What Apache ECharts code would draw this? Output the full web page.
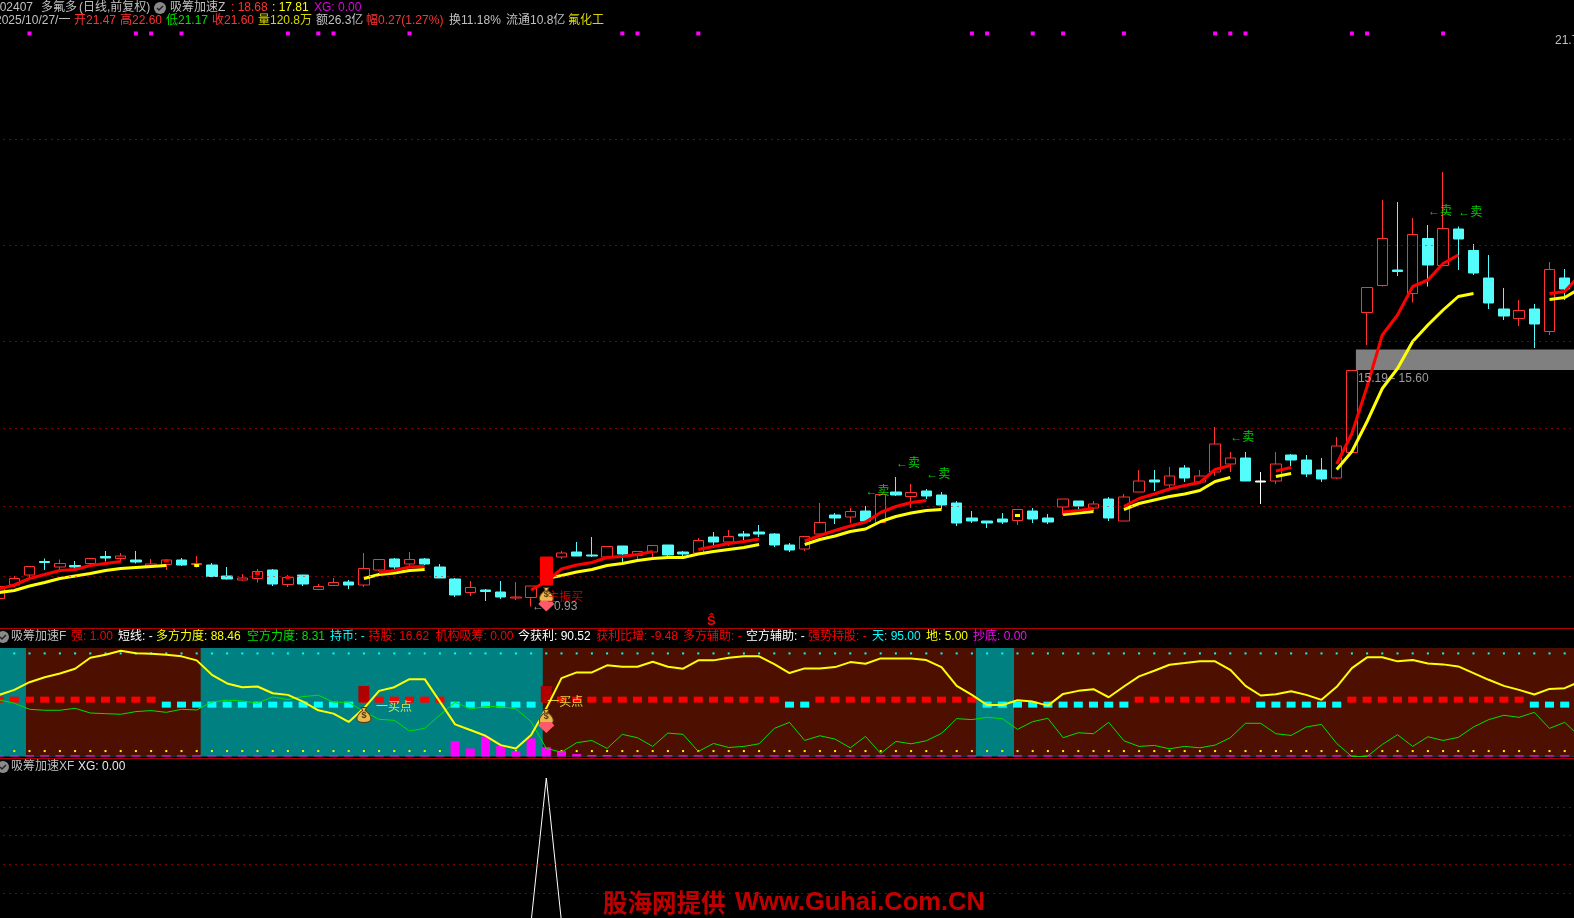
<!DOCTYPE html>
<html><head><meta charset="utf-8"><style>html,body{margin:0;padding:0;background:#000;overflow:hidden}#c{width:1574px;height:918px}</style>
<script src="https://cdn.jsdelivr.net/npm/echarts@6/dist/echarts.min.js"></script></head><body><div id="c"></div><script>
const _=null;
const categories=Array.from({length:105},(v,i)=>'K'+i);
const opens=[10.62,10.89,11.09,11.36,11.25,11.28,11.32,11.46,11.42,11.39,11.27,11.30,11.39,11.30,11.29,11.07,10.99,11.02,11.19,10.90,11.09,10.80,10.88,10.95,10.89,11.19,11.41,11.31,11.41,11.25,11.01,10.74,10.79,10.75,10.63,10.64,10.89,11.45,11.55,11.49,11.45,11.67,11.48,11.55,11.69,11.55,11.53,11.85,11.75,11.91,11.95,11.91,11.69,11.61,11.91,12.29,12.25,12.37,12.14,12.75,12.66,12.77,12.69,12.53,12.23,12.17,12.21,12.18,12.37,12.23,12.45,12.57,12.43,12.61,12.17,12.75,12.99,12.89,13.23,12.95,13.15,13.31,13.43,12.97,12.97,13.49,13.39,13.19,13.03,13.54,16.34,16.88,17.19,16.72,17.82,17.28,18.01,17.58,17.03,16.41,16.22,16.41,15.96,17.03];
const closes=[10.86,11.02,11.26,11.34,11.32,11.25,11.42,11.43,11.47,11.35,11.31,11.39,11.29,11.32,11.06,11.01,11.03,11.16,10.91,11.04,10.91,10.86,10.94,10.89,11.22,11.40,11.25,11.40,11.31,11.03,10.69,10.84,10.76,10.65,10.65,10.87,11.45,11.53,11.47,11.47,11.66,11.51,11.56,11.68,11.49,11.51,11.78,11.75,11.86,11.87,11.91,11.69,11.59,11.86,12.14,12.23,12.36,12.17,12.70,12.69,12.74,12.67,12.49,12.13,12.17,12.13,12.15,12.40,12.21,12.15,12.61,12.47,12.51,12.23,12.65,12.97,12.95,13.07,13.03,13.07,13.71,13.43,12.97,12.95,13.31,13.39,13.11,13.01,13.67,15.18,16.84,17.82,17.16,17.90,17.29,18.02,17.81,17.13,16.53,16.27,16.38,16.11,17.20,16.81];
const lows=[10.62,10.85,11.02,11.19,11.17,11.19,11.27,11.36,11.36,11.32,11.25,11.19,11.27,11.24,11.05,11.00,10.97,10.94,10.87,10.85,10.87,10.80,10.88,10.81,10.85,11.16,11.20,11.24,11.29,11.03,10.65,10.67,10.57,10.61,10.59,10.46,10.89,11.41,11.47,11.45,11.43,11.35,11.39,11.45,11.45,11.47,11.49,11.69,11.67,11.79,11.85,11.65,11.55,11.57,11.91,12.11,12.13,12.15,12.14,12.67,12.43,12.61,12.41,12.07,12.13,12.03,12.11,12.09,12.13,12.11,12.29,12.41,12.37,12.17,12.17,12.75,12.77,12.83,12.95,12.93,13.07,13.15,12.97,12.51,12.91,13.27,13.05,12.95,13.01,13.54,15.69,16.86,17.07,16.54,16.86,17.28,17.19,17.09,16.41,16.19,16.07,15.63,15.89,16.59];
const highs=[10.87,11.07,11.26,11.42,11.40,11.37,11.42,11.57,11.53,11.57,11.41,11.41,11.43,11.47,11.33,11.25,11.11,11.21,11.21,11.09,11.09,10.91,11.03,10.99,11.53,11.40,11.43,11.55,11.43,11.31,11.03,10.97,10.81,10.97,10.95,10.87,11.45,11.57,11.75,11.85,11.66,11.67,11.56,11.68,11.69,11.57,11.83,11.95,11.99,11.97,12.09,11.93,11.73,11.86,12.53,12.33,12.43,12.47,12.70,13.05,12.91,12.81,12.75,12.57,12.37,12.17,12.33,12.40,12.43,12.31,12.61,12.57,12.57,12.65,12.71,13.19,13.19,13.25,13.29,13.19,14.05,13.55,13.55,13.15,13.55,13.51,13.49,13.43,13.85,15.18,16.84,18.59,18.55,18.23,18.09,19.15,18.06,17.71,17.49,16.83,16.59,16.51,17.35,17.21];
const surgeIndex=36, dojiIndex=83;
const redLine=[10.81,10.89,11.02,11.10,11.18,11.20,11.28,11.32,11.36,_,_,_,_,_,_,_,_,_,_,_,_,_,_,_,_,11.14,11.18,11.25,11.26,_,_,_,_,_,_,10.79,10.96,11.21,11.29,11.34,11.44,11.46,11.50,11.56,_,_,11.60,11.66,11.72,11.76,11.81,_,_,11.77,11.88,11.98,12.07,12.15,12.34,12.46,12.54,12.58,_,_,_,_,_,_,_,_,12.35,12.38,12.42,_,12.46,12.62,12.71,12.81,12.88,12.94,13.20,13.28,_,_,13.17,13.24,_,_,13.31,13.92,14.86,15.89,16.29,16.86,16.99,17.32,17.49,_,_,_,_,_,16.72,16.76,17.09];
const yellowLine=[10.74,10.78,10.87,10.94,11.02,11.07,11.12,11.18,11.22,11.24,11.26,11.28,_,_,_,_,_,_,_,_,_,_,_,_,11.02,11.10,11.13,11.18,11.20,_,_,_,_,_,_,_,11.02,11.08,11.15,11.20,11.28,11.32,11.38,11.42,11.44,11.44,11.51,11.56,11.60,11.64,11.70,_,_,11.70,11.80,11.87,11.96,12.01,12.16,12.26,12.33,12.38,12.40,_,_,_,_,_,_,_,12.30,12.33,12.36,_,12.40,12.52,12.59,12.66,12.71,12.78,12.96,13.04,_,_,13.06,13.12,_,_,13.20,13.56,14.16,14.82,15.22,15.76,16.09,16.39,16.66,16.72,_,_,_,_,16.60,16.64,16.82];
const redDots=[[11,11.37],[17,11.12],[19,11.04]];
const yellowDots=[[13,11.28],[67,12.28]];
const mainGridPrices=[19.80,17.68,15.76,14.02,12.46,11.06];
const topMarkIndex=[2,9,10,12,19,21,22,27,41,42,46,64,65,68,70,74,80,81,82,89,90,95];
const topMarkPrice=21.92;
const zoneBand=[89,104,15.19,15.60];
const sellMarks=[[57,12.75],[59,13.31],[61,13.09],[81,13.84],[94,18.35],[96,18.33]];
const bullForce=[56.8,61.4,68.5,73.1,76.5,80.9,91.0,93.8,97.5,95.1,94.8,93.8,92.3,88.6,75.3,67.3,63.9,64.5,58.3,56.8,50.6,42.6,39.5,31.8,44.4,60.5,63.9,71.3,71.3,50.6,29.6,24.4,19.1,10.5,7.4,19.8,44.4,72.2,77.5,77.5,84.0,82.7,82.7,87.3,82.7,80.9,88.6,88.6,91.0,92.3,92.3,85.2,76.9,81.2,81.2,82.4,87.0,85.5,90.4,90.4,90.4,88.9,82.4,65.1,56.8,47.5,47.5,51.9,50.6,46.9,57.7,60.5,62.0,54.6,64.5,73.8,79.0,84.6,86.1,87.7,87.7,79.9,65.1,56.2,57.4,60.2,56.8,52.2,64.2,81.5,91.4,91.4,87.7,88.9,85.8,84.9,83.0,76.9,70.7,65.1,61.4,57.1,62.3,63.0,69.1];
const bearForce=[52.2,49.1,43.5,42.6,42.6,44.4,40.1,39.5,38.9,41.4,42.3,40.7,43.5,42.9,50.3,51.9,51.2,49.1,54.9,52.5,55.2,56.5,50.0,50.0,41.4,34.3,33.3,23.5,25.9,38.3,50.0,43.8,46.0,46.0,43.8,32.1,7.4,4.0,12.7,14.8,7.4,20.4,17.3,9.3,21.6,20.4,4.6,12.0,8.3,9.3,11.7,25.9,31.5,14.8,19.1,16.0,8.0,18.5,2.8,13.9,11.7,14.5,21.3,34.9,34.0,36.1,34.9,25.0,32.1,35.2,17.3,21.9,21.0,31.5,14.5,9.3,10.2,7.1,9.3,8.0,10.5,17.3,30.6,30.6,21.0,19.4,27.2,29.6,12.0,0,0,11.1,20.1,9.3,18.2,14.8,17.6,27.2,34.0,38.0,36.1,40.7,25.9,31.5,18.2];
const holdFlags=[1,1,1,1,1,1,1,1,1,1,1,0,0,0,0,0,0,0,0,0,0,0,0,0,1,1,1,1,1,1,0,0,0,0,0,0,1,1,1,1,1,1,1,1,1,1,1,1,1,1,1,1,0,0,1,1,1,1,1,1,1,1,1,1,1,0,0,0,0,0,0,0,0,0,0,1,1,1,1,1,1,1,1,0,0,0,0,0,0,1,1,1,1,1,1,1,1,1,1,1,1,0,0,0,0];
const holdLevel=52.4, cashLevel=47.8, skyLevel=95, groundLevel=5;
const bottomBars=[1.2,1.2,1.2,1.2,1.2,1.2,1.2,1.2,1.2,1.2,1.2,1.2,1.2,1.2,1.2,1.2,1.2,1.2,1.2,1.2,1.2,1.2,1.2,1.2,1.2,1.2,1.2,1.2,1.2,1.2,14.2,7.4,18.5,9.6,4.9,16.7,8.6,4.9,2.2,1.4,1.4,1.2,1.2,1.2,1.2,1.2,1.2,1.2,1.2,1.2,1.2,1.2,1.2,1.2,1.2,1.2,1.2,1.2,1.2,1.2,1.2,1.2,1.2,1.2,1.2,1.2,1.2,1.2,1.2,1.2,1.2,1.2,1.2,1.2,1.2,1.2,1.2,1.2,1.2,1.2,1.2,1.2,1.2,1.2,1.2,1.2,1.2,1.2,1.2,1.2,1.2,1.2,1.2,1.2,1.2,1.2,1.2,1.2,1.2,1.2,1.2,1.2,1.2,1.2,1.2];
const brownRanges=[[2,13],[36,64],[67,104]];
const signalBars=[[24,50,65],[36,50,65]];
const buyTexts=[[24,44.7,12],[36,49.4,1]];
const xgValues=categories.map((c,i)=>i===36?100:0);
const xgGrid=[20,40,60,80];

const FONT='"Liberation Sans","Noto Sans CJK SC",sans-serif';
const CYAN='#54fcfc', RED='#ff3232', GREY='#c0c0c0';
const BAG='path://M5 0 H11 L9.5 3 C14 6 16 9 16 12 C16 15 13 16 8 16 C3 16 0 15 0 12 C0 9 2 6 6.5 3 Z';
const GEM='path://M3 0 H13 L16 3.5 L8 11 L0 3.5 Z';
const headerTexts=[
 ['002407',-7,8,GREY],['多氟多',41,8,GREY],['(日线,前复权)',79,8,GREY],['吸筹加速Z',170,8,GREY],[': 18.68',231,8,'#ff3232'],[': 17.81',272,8,'#ffff00'],['XG: 0.00',314,8,'#e000e0'],
 ['2025/10/27/一',-5,21,GREY],['开21.47',74,21,RED],['高22.60',120,21,RED],['低21.17',166,21,'#00e000'],['收21.60',212,21,RED],['量120.8万',258,21,'#d8d800'],['额26.3亿',316,21,GREY],['幅0.27(1.27%)',366,21,RED],['换11.18%',449,21,GREY],['流通10.8亿',506,21,GREY],['氟化工',568,21,'#d8d800'],
 ['吸筹加速F',11,637,GREY],['强: 1.00',71,637,'#ff0000'],['短线: -',118,637,'#ffffff'],['多方力度: 88.46',156,637,'#ffff00'],['空方力度: 8.31',247,637,'#00e000'],['持币: -',330,637,'#00ffff'],['持股: 16.62',368.5,637,'#ff0000'],['机构吸筹: 0.00',435.5,637,'#ff0000'],['今获利: 90.52',518,637,'#ffffff'],['获利比增: -9.48',596,637,'#ff0000'],['多方辅助: -',683,637,'#ff0000'],['空方辅助: -',746,637,'#ffffff'],['强势持股: -',808,637,'#ff0000'],['天: 95.00',872,637,'#00ffff'],['地: 5.00',926,637,'#ffff00'],['抄底: 0.00',973,637,'#ff00ff'],
 ['吸筹加速XF',11,767,GREY],['XG: 0.00',78,767,'#e8e8e8'],
 ['21.72',1555,41,GREY]
];
const icons=[[160,8],[3,637],[3,767]];
const graphics=[
 {type:'rect',shape:{x:0,y:628,width:1574,height:1},style:{fill:'#b00000'},z:20},
 {type:'rect',shape:{x:0,y:758,width:1574,height:1},style:{fill:'#b00000'},z:20},
 ...icons.map(p=>({type:'circle',shape:{cx:p[0],cy:p[1],r:6},style:{fill:'#8a8a8a'},z:21})),
 ...icons.map(p=>({type:'polyline',shape:{points:[[p[0]-3,p[1]],[p[0]-1,p[1]+2],[p[0]+3,p[1]-2]]},style:{stroke:'#222',lineWidth:1.5,fill:null},z:22})),
 ...headerTexts.map(t=>({type:'text',x:t[1],y:t[2],z:23,style:{text:t[0],fill:t[3],font:'12px '+FONT,verticalAlign:'middle',align:'left'}})),
 {type:'text',x:707,y:621,z:23,style:{text:'Ŝ',fill:'#ff0000',font:'bold 13px '+FONT,verticalAlign:'middle'}},
 {type:'text',x:603,y:903,z:30,style:{text:'股海网提供',fill:'#c00000',font:'bold 24.5px "Noto Sans CJK SC",sans-serif',verticalAlign:'middle'}},
 {type:'text',x:735,y:903,z:30,style:{text:'Www.Guhai.Com.CN',fill:'#c00000',font:'bold 25.5px "Liberation Sans",sans-serif',verticalAlign:'middle'}}
];

const candleData=opens.map((o,i)=>{
  if(i===surgeIndex) return ['-','-','-','-'];
  const v=[o,closes[i],lows[i],highs[i]];
  return i===dojiIndex?{value:v,itemStyle:{color:'#fff',color0:'#fff',borderColor:'#fff',borderColor0:'#fff'}}:v;
});
const surgeData=opens.map((o,i)=>i===surgeIndex?[o,closes[i],lows[i],highs[i]]:['-','-','-','-']);
const rectSeries=(name,xi,yi,data,render,z)=>({name,type:'custom',xAxisIndex:xi,yAxisIndex:yi,data,renderItem:render,z,silent:true,clip:true,encode:{x:0}});
const solid=c=>({color:c,opacity:1});
const dotted={color:'#ff0000',type:[1,5],width:1};
const axes=[0,1,2];
const option={
 backgroundColor:'#000',animation:false,tooltip:{show:false},graphic:graphics,
 grid:[
  {left:-8.5,width:1596,top:0,height:628,outerBoundsMode:'none'},
  {left:-8.5,width:1596,top:648,height:108.5,show:true,backgroundColor:'#008080',borderWidth:0,outerBoundsMode:'none'},
  {left:-8.5,width:1596,top:778,height:144,outerBoundsMode:'none'}
 ],
 xAxis:axes.map(i=>({type:'category',gridIndex:i,data:categories,show:false,boundaryGap:true})),
 yAxis:[
  {type:'value',gridIndex:0,min:10.03,max:22.59,show:false,splitLine:{show:false}},
  {type:'value',gridIndex:1,min:0,max:100,show:false,splitLine:{show:false}},
  {type:'value',gridIndex:2,min:0,max:100,show:false,splitLine:{show:false}}
 ],
 series:[
  rectSeries('zone',0,0,[zoneBand],(p,api)=>{
    const a=api.coord([api.value(0),api.value(3)]),b=api.coord([api.value(1),api.value(2)]);
    return {type:'rect',shape:{x:a[0]+4,y:a[1],width:b[0]-a[0]+20,height:b[1]-a[1]},style:{fill:'#808080'}};
  },1),
  {type:'candlestick',xAxisIndex:0,yAxisIndex:0,data:candleData,barWidth:11,z:2,silent:true,
   itemStyle:{color:'#000',color0:CYAN,borderColor:RED,borderColor0:CYAN,borderWidth:1},
   markLine:{silent:true,symbol:'none',label:{show:false},animation:false,lineStyle:dotted,data:mainGridPrices.map(v=>({yAxis:v}))}},
  {type:'line',xAxisIndex:0,yAxisIndex:0,data:yellowLine,showSymbol:false,symbol:'none',connectNulls:false,lineStyle:{color:'#ffff00',width:3},z:3,silent:true},
  {type:'line',xAxisIndex:0,yAxisIndex:0,data:redLine,showSymbol:false,symbol:'none',connectNulls:false,lineStyle:{color:'#ff0000',width:3},z:4,silent:true},
  {type:'scatter',xAxisIndex:0,yAxisIndex:0,data:redDots,symbol:'rect',symbolSize:[5,3],itemStyle:solid('#ff0000'),z:4,silent:true},
  {type:'scatter',xAxisIndex:0,yAxisIndex:0,data:yellowDots,symbol:'rect',symbolSize:[5,3],itemStyle:solid('#ffff00'),z:4,silent:true},
  {type:'candlestick',xAxisIndex:0,yAxisIndex:0,data:surgeData,barWidth:13,z:5,silent:true,
   itemStyle:{color:'#ff0000',color0:'#ff0000',borderColor:'#ff0000',borderColor0:'#ff0000',borderWidth:1}},
  {type:'scatter',xAxisIndex:0,yAxisIndex:0,data:topMarkIndex.map(n=>[n,topMarkPrice]),symbol:'rect',symbolSize:4,itemStyle:solid('#ff00ff'),z:5,silent:true},
  {type:'scatter',xAxisIndex:0,yAxisIndex:0,data:sellMarks,symbolSize:0,z:6,silent:true,label:{show:true,position:'right',distance:0,formatter:'←卖',color:'#00ff00',fontSize:12,fontFamily:FONT}},
  {type:'scatter',xAxisIndex:0,yAxisIndex:0,data:[[89,15.01]],symbolSize:0,z:6,silent:true,label:{show:true,position:'right',distance:6,formatter:'15.19 - 15.60',color:GREY,fontSize:12,fontFamily:FONT}},
  {type:'scatter',xAxisIndex:0,yAxisIndex:0,data:[[36,10.69]],symbol:BAG,symbolSize:[14,15],z:6,silent:true,itemStyle:{color:'#e8b84a',borderColor:'#5a3410',borderWidth:1,opacity:1},label:{show:true,position:'inside',formatter:'$',color:'#5a3410',fontSize:9,fontWeight:'bold'}},
  {type:'scatter',xAxisIndex:0,yAxisIndex:0,data:[[36,10.47]],symbol:GEM,symbolSize:[16,11],z:6,silent:true,itemStyle:solid('#ff5a6a')},
  {type:'scatter',xAxisIndex:0,yAxisIndex:0,data:[[36,10.64]],symbolSize:0,z:7,silent:true,label:{show:true,position:'right',distance:1,formatter:'主振买',color:'#ff0000',fontSize:12,fontFamily:FONT}},
  {type:'scatter',xAxisIndex:0,yAxisIndex:0,data:[[35,10.45]],symbolSize:0,z:7,silent:true,label:{show:true,position:'right',distance:1,formatter:'←   0.93',color:GREY,fontSize:12,fontFamily:FONT}},

  rectSeries('regime',1,1,brownRanges,(p,api)=>{
    const a=api.coord([api.value(0),100]),b=api.coord([api.value(1),0]);
    return {type:'rect',shape:{x:a[0]-3.5,y:a[1],width:b[0]-a[0]+7.5,height:b[1]-a[1]},style:{fill:'#4d1000'}};
  },1),
  {type:'scatter',xAxisIndex:1,yAxisIndex:1,data:categories.map((c,i)=>[i,skyLevel]),symbol:'rect',symbolSize:2,itemStyle:solid('#00ffff'),z:2,silent:true},
  {type:'scatter',xAxisIndex:1,yAxisIndex:1,data:categories.map((c,i)=>[i,groundLevel]),symbol:'rect',symbolSize:2,itemStyle:solid('#ffff00'),z:2,silent:true},
  {type:'bar',xAxisIndex:1,yAxisIndex:1,data:bottomBars,barWidth:9,itemStyle:{color:'#ff00ff'},z:3,silent:true},
  {type:'scatter',xAxisIndex:1,yAxisIndex:1,data:holdFlags.map((f,i)=>f?[i,holdLevel]:[i,'-']),symbol:'rect',symbolSize:[9,6],itemStyle:solid('#ff0000'),z:3,silent:true},
  {type:'scatter',xAxisIndex:1,yAxisIndex:1,data:holdFlags.map((f,i)=>f?[i,'-']:[i,cashLevel]),symbol:'rect',symbolSize:[9,6],itemStyle:solid('#00ffff'),z:3,silent:true},
  rectSeries('signal',1,1,signalBars,(p,api)=>{
    const a=api.coord([api.value(0),api.value(2)]),b=api.coord([api.value(0),api.value(1)]);
    return {type:'rect',shape:{x:a[0]-5.5,y:a[1],width:11,height:b[1]-a[1]},style:{fill:'#b00000'}};
  },4),
  {type:'line',xAxisIndex:1,yAxisIndex:1,data:bearForce,showSymbol:false,symbol:'none',lineStyle:{color:'#00e000',width:1},z:5,silent:true},
  {type:'line',xAxisIndex:1,yAxisIndex:1,data:bullForce,showSymbol:false,symbol:'none',lineStyle:{color:'#ffff00',width:2},z:6,silent:true},
  {type:'scatter',xAxisIndex:1,yAxisIndex:1,data:[[24,38.2],[36,36.4]],symbol:BAG,symbolSize:[14,15],z:7,silent:true,itemStyle:{color:'#e8b84a',borderColor:'#5a3410',borderWidth:1,opacity:1},label:{show:true,position:'inside',formatter:'$',color:'#5a3410',fontSize:9,fontWeight:'bold'}},
  {type:'scatter',xAxisIndex:1,yAxisIndex:1,data:[[36,26.7]],symbol:GEM,symbolSize:[16,11],z:7,silent:true,itemStyle:solid('#ff5a6a')},
  {type:'scatter',xAxisIndex:1,yAxisIndex:1,data:buyTexts.map(b=>({value:[b[0],b[1]],label:{distance:b[2]}})),symbolSize:0,z:8,silent:true,label:{show:true,position:'right',formatter:'一买点',color:'#ffff54',fontSize:12,fontFamily:FONT}},

  {type:'line',xAxisIndex:2,yAxisIndex:2,data:xgValues,showSymbol:false,symbol:'none',lineStyle:{color:'#ffffff',width:1},z:3,silent:true,
   markLine:{silent:true,symbol:'none',label:{show:false},animation:false,lineStyle:dotted,data:xgGrid.map(v=>({yAxis:v}))}}
 ]
};
const chart=echarts.init(document.getElementById('c'),null,{renderer:'canvas',width:1574,height:918});
chart.setOption(option);
</script></body></html>
